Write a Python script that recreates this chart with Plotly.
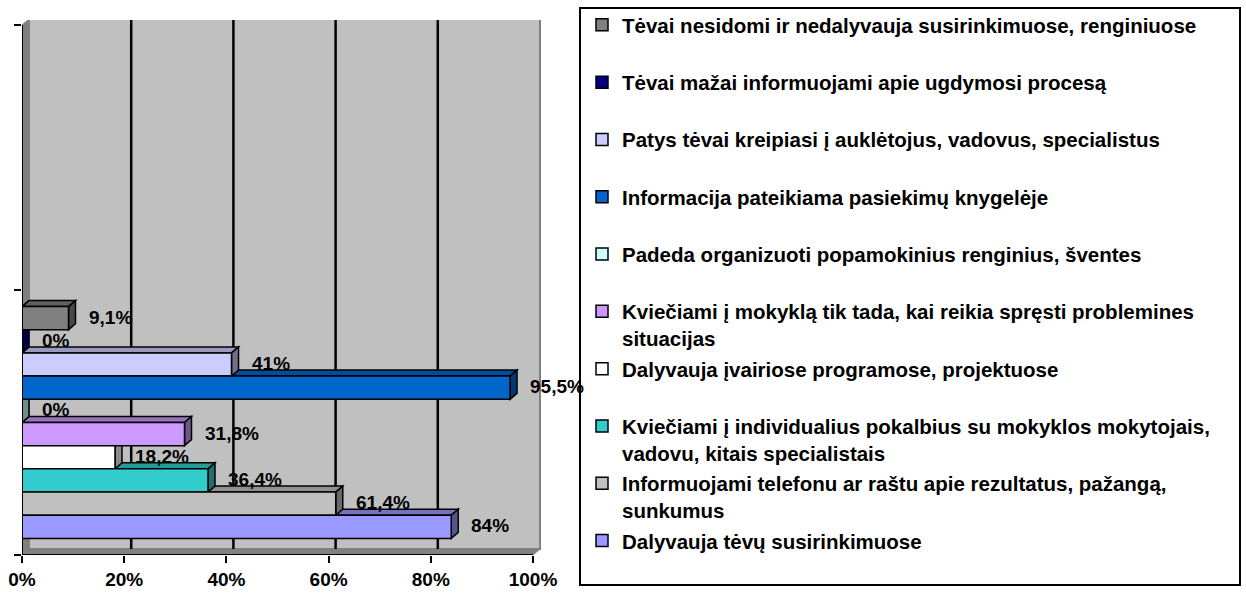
import plotly.graph_objects as go

# series listed bottom-to-top as the bars are stacked in the chart
series_names = [
    "Dalyvauja tėvų susirinkimuose",
    "Informuojami telefonu ar raštu apie rezultatus, pažangą,<br>sunkumus",
    "Kviečiami į individualius pokalbius su mokyklos mokytojais,<br>vadovu, kitais specialistais",
    "Dalyvauja įvairiose programose, projektuose",
    "Kviečiami į mokyklą tik tada, kai reikia spręsti problemines<br>situacijas",
    "Padeda organizuoti popamokinius renginius, šventes",
    "Informacija pateikiama pasiekimų knygelėje",
    "Patys tėvai kreipiasi į auklėtojus, vadovus, specialistus",
    "Tėvai mažai informuojami apie ugdymosi procesą",
    "Tėvai nesidomi ir nedalyvauja susirinkimuose, renginiuose",
]
series_values = [84, 61.4, 36.4, 18.2, 31.8, 0, 95.5, 41, 0, 9.1]
series_colors = [
    "#9999FF", "#C0C0C0", "#33CCCC", "#FFFFFF", "#CC99FF",
    "#CCFFFF", "#0066CC", "#CCCCFF", "#000080", "#808080",
]
x_ticks = [0, 20, 40, 60, 80, 100]
x_tick_labels = ["0%", "20%", "40%", "60%", "80%", "100%"]

W, H = 1246, 593
FONT = "Liberation Sans, Arial, sans-serif"

# pixel geometry of the plot (front plane)
X_LEFT, X_FULL, X_WALL_RIGHT = 22, 533, 541
Y_TOP_WALL, Y_TOP, Y_BOT = 20, 25, 555
ux = (X_FULL - X_LEFT) / 100.0          # px per percent
uy = (Y_BOT - Y_TOP) / 2.0              # px per category
DX = 7 / ux                             # 3d depth offset in data units
DY = 6 / uy

BAR_W = 0.875 / len(series_values)
GROUP_START = -0.4375


def shade(hex_color, f):
    h = hex_color.lstrip("#")
    r, g, b = (int(h[i:i + 2], 16) for i in (0, 2, 4))
    return "#%02X%02X%02X" % (int(r * f), int(g * f), int(b * f))


def poly(points):
    return "M " + " L ".join(f"{x},{y}" for x, y in points) + " Z"


fig = go.Figure()
shapes = []

# walls
shapes.append(dict(type="path", xref="x", yref="y", layer="below",
                   path=poly([(0, -0.5), (0, 1.5), (DX, 1.5 + DY), (DX, -0.5 + DY)]),
                   fillcolor="#808080", line=dict(color="#808080", width=1)))
shapes.append(dict(type="path", xref="x", yref="y", layer="below",
                   path=poly([(0, -0.5), (100, -0.5), (100 + DX, -0.5 + DY), (DX, -0.5 + DY)]),
                   fillcolor="#808080", line=dict(color="#808080", width=1)))
shapes.append(dict(type="rect", xref="x", yref="y", layer="below",
                   x0=DX, x1=100 + DX, y0=-0.5 + DY, y1=1.5 + DY,
                   fillcolor="#C0C0C0", line=dict(color="#808080", width=2)))
for t in x_ticks[1:-1]:
    shapes.append(dict(type="line", xref="x", yref="y", layer="below",
                       x0=t + DX, x1=t + DX, y0=-0.5 + DY, y1=1.5 + DY,
                       line=dict(color="black", width=2.5)))

# 3d faces of the bars (top + side), bottom bar first
for i, (v, c) in enumerate(zip(series_values, series_colors)):
    y0 = GROUP_START + BAR_W * i
    y1 = y0 + BAR_W
    shapes.append(dict(type="path", xref="x", yref="y", layer="below",
                       path=poly([(0, y1), (v, y1), (v + DX, y1 + DY), (DX, y1 + DY)]),
                       fillcolor=shade(c, 0.75), line=dict(color="black", width=1.5)))
    shapes.append(dict(type="path", xref="x", yref="y", layer="below",
                       path=poly([(v, y0), (v, y1), (v + DX, y1 + DY), (v + DX, y0 + DY)]),
                       fillcolor=shade(c, 0.55), line=dict(color="black", width=1.5)))

# front edges of the axes
shapes.append(dict(type="line", xref="x", yref="y", x0=0, x1=100, y0=-0.5, y1=-0.5,
                   line=dict(color="black", width=2)))
shapes.append(dict(type="line", xref="x", yref="y", x0=0, x1=0, y0=-0.5, y1=1.5,
                   line=dict(color="black", width=2)))

# legend frame
shapes.append(dict(type="rect", xref="paper", yref="paper",
                   x0=580 / W, x1=1240 / W, y0=1 - 585 / H, y1=1 - 8 / H,
                   line=dict(color="black", width=2), fillcolor="rgba(0,0,0,0)"))

# traces added top bar first so the legend reads top-to-bottom like the chart
for i in reversed(range(len(series_values))):
    name, v, c = series_names[i], series_values[i], series_colors[i]
    label = name if ("<br>" in name or i == 0) else name + "<br>&nbsp;"
    fig.add_trace(go.Bar(
        x=[v], y=[0], orientation="h",
        width=BAR_W, offset=GROUP_START + BAR_W * i,
        marker=dict(color=c, line=dict(color="black", width=1.5)),
        name=label, legendgroup=f"g{i}", hoverinfo="skip",
    ))

annotations = []
for i, v in enumerate(series_values):
    yc = GROUP_START + BAR_W * (i + 0.5)
    txt = f"{v:g}".replace(".", ",") + "%"
    annotations.append(dict(x=v, y=yc, xref="x", yref="y", text=txt, showarrow=False,
                            xanchor="left", yanchor="middle", xshift=18, yshift=1,
                            font=dict(family=FONT, size=19, color="black", weight="bold")))

fig.update_layout(
    width=W, height=H,
    margin=dict(l=0, r=0, t=0, b=0),
    paper_bgcolor="white", plot_bgcolor="rgba(0,0,0,0)",
    barmode="overlay",
    shapes=shapes, annotations=annotations,
    font=dict(family=FONT, size=15, color="black"),
    xaxis=dict(domain=[X_LEFT / W, X_WALL_RIGHT / W],
               range=[0, (X_WALL_RIGHT - X_LEFT) / ux], automargin=False,
               tickvals=x_ticks, ticktext=x_tick_labels,
               ticks="outside", ticklen=7, tickwidth=2, tickcolor="black",
               showgrid=False, zeroline=False, showline=False, fixedrange=True,
               tickfont=dict(family=FONT, size=19, color="black", weight="bold")),
    yaxis=dict(domain=[1 - Y_BOT / H, 1 - Y_TOP_WALL / H],
               range=[-0.5, 1.5 + (Y_TOP - Y_TOP_WALL) / uy], automargin=False,
               tickvals=[-0.5, 0.5, 1.5], ticks="outside", ticklen=7, tickwidth=2,
               tickcolor="black", showticklabels=False,
               showgrid=False, zeroline=False, showline=False, fixedrange=True),
    legend=dict(x=582 / W, y=1 - 5 / H, xanchor="left", yanchor="top",
                traceorder="grouped", tracegroupgap=1, valign="top",
                bgcolor="rgba(0,0,0,0)", borderwidth=0,
                font=dict(family=FONT, size=20.5, color="black", weight="bold")),
    showlegend=True,
)

fig.write_html("out.html", config={"displayModeBar": False},
               post_script="document.body.style.margin='0';document.body.style.overflow='hidden';")
